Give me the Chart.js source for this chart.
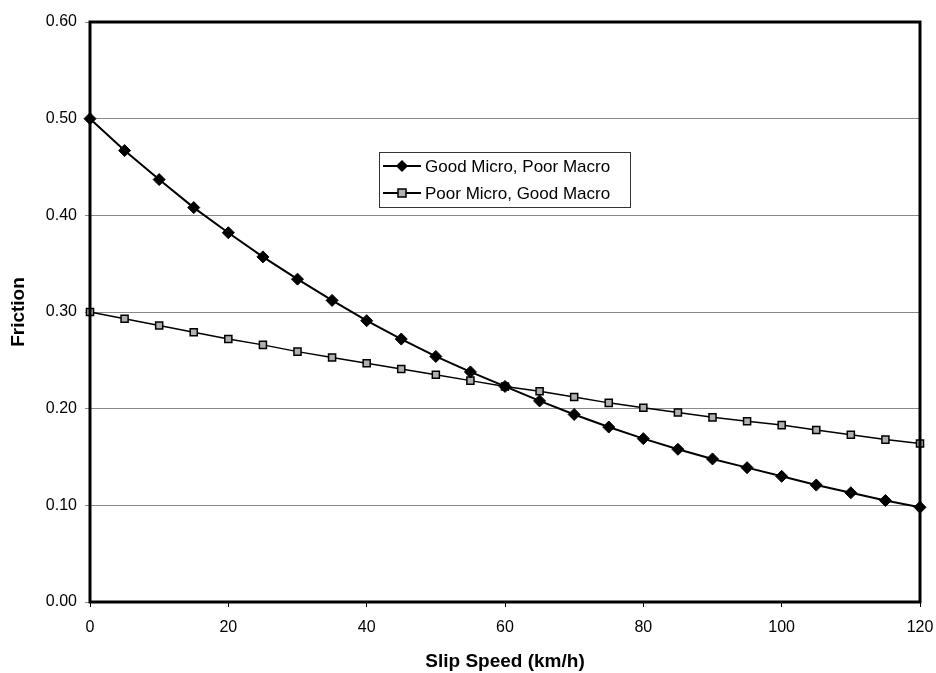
<!DOCTYPE html>
<html>
<head>
<meta charset="utf-8">
<script src="https://cdn.jsdelivr.net/npm/chart.js@4"></script>
<style>
  html, body { margin: 0; padding: 0; background: #fff; }
  #wrap { width: 936px; height: 673px; }
</style>
</head>
<body>
<div id="wrap"><canvas id="chart" width="936" height="673"></canvas></div>
<script>
const speeds = [0, 5, 10, 15, 20, 25, 30, 35, 40, 45, 50, 55, 60, 65, 70, 75, 80, 85, 90, 95, 100, 105, 110, 115, 120];
const goodMicroPoorMacro = [0.500, 0.467, 0.437, 0.408, 0.382, 0.357, 0.334, 0.312, 0.291, 0.272, 0.254, 0.238, 0.223,
    0.208, 0.194, 0.181, 0.169, 0.158, 0.148, 0.139, 0.130, 0.121, 0.113, 0.105, 0.098];
const poorMicroGoodMacro = [0.300, 0.293, 0.286, 0.279, 0.272, 0.266, 0.259, 0.253, 0.247, 0.241, 0.235, 0.229, 0.223,
    0.218, 0.212, 0.206, 0.201, 0.196, 0.191, 0.187, 0.183, 0.178, 0.173, 0.168, 0.164];
const seriesLabels = ['Good Micro, Poor Macro', 'Poor Micro, Good Macro'];

const font = "'Liberation Sans', Arial, sans-serif";

// frame around the plot + legend box inside it
const framePlugin = {
    id: 'frame',
    afterDraw(chart) {
        const c = chart.ctx, a = chart.chartArea;
        c.save();
        c.strokeStyle = '#000';
        c.lineWidth = 3;
        c.strokeRect(a.left, a.top, a.right - a.left, a.bottom - a.top);

        // legend
        const bx = 379, by = 152, bw = 251, bh = 55;
        c.fillStyle = '#fff';
        c.fillRect(bx, by, bw, bh);
        c.lineWidth = 1;
        c.strokeStyle = '#333';
        c.strokeRect(bx + 0.5, by + 0.5, bw, bh);
        c.font = '17px ' + font;
        c.textBaseline = 'middle';
        chart.data.datasets.forEach((ds, i) => {
            const y = by + 14 + i * 27;
            c.strokeStyle = '#000';
            c.lineWidth = 2;
            c.beginPath();
            c.moveTo(bx + 4, y);
            c.lineTo(bx + 42, y);
            c.stroke();
            c.fillStyle = ds.pointBackgroundColor;
            c.strokeStyle = '#000';
            c.lineWidth = 1.5;
            const mx = bx + 23;
            if (ds.pointStyle === 'rectRot') {
                c.beginPath();
                c.moveTo(mx, y - 5);
                c.lineTo(mx + 5, y);
                c.lineTo(mx, y + 5);
                c.lineTo(mx - 5, y);
                c.closePath();
                c.fill();
                c.stroke();
            } else {
                c.fillRect(mx - 4, y - 4, 8, 8);
                c.strokeRect(mx - 4, y - 4, 8, 8);
            }
            c.fillStyle = '#000';
            c.fillText(ds.label, bx + 46, y + 1);
        });
        c.restore();
    }
};

const ctx = document.getElementById('chart').getContext('2d');

const chart = new Chart(ctx, {
    type: 'line',
    data: {
        datasets: [
            {
                label: seriesLabels[0],
                data: speeds.map((s, i) => ({ x: s, y: goodMicroPoorMacro[i] })),
                borderColor: '#000',
                borderWidth: 2,
                pointStyle: 'rectRot',
                pointRadius: 6,
                pointBackgroundColor: '#000',
                pointBorderColor: '#000',
                pointBorderWidth: 1,
                clip: false
            },
            {
                label: seriesLabels[1],
                data: speeds.map((s, i) => ({ x: s, y: poorMicroGoodMacro[i] })),
                borderColor: '#000',
                borderWidth: 1.5,
                pointStyle: 'rect',
                pointRadius: 5,
                pointBackgroundColor: '#b0b0b0',
                pointBorderColor: '#000',
                pointBorderWidth: 1.5,
                clip: false
            }
        ]
    },
    options: {
        responsive: false,
        animation: false,
        layout: { padding: { top: 22, right: 16, left: 0, bottom: 0 } },
        plugins: {
            legend: { display: false },
            tooltip: { enabled: false }
        },
        scales: {
            x: {
                type: 'linear',
                min: 0,
                max: 120,
                ticks: { stepSize: 20, color: '#000', font: { family: font, size: 16 }, padding: 11 },
                grid: { drawOnChartArea: false, color: '#000', tickLength: 5 },
                border: { display: false },
                title: { display: true, text: 'Slip Speed (km/h)', color: '#000',
                         font: { family: font, size: 19, weight: 'bold' }, padding: { top: 4, bottom: 0 } },
                afterFit(scale) {
                    scale.height = 71;
                    scale.paddingLeft = 0;
                    scale.paddingRight = 0;
                }
            },
            y: {
                min: 0,
                max: 0.6,
                ticks: { stepSize: 0.1, color: '#000', font: { family: font, size: 16 }, padding: 8,
                         callback: v => v.toFixed(2) },
                grid: { color: '#8a8a8a', lineWidth: 1, tickLength: 5 },
                border: { display: false },
                title: { display: true, text: 'Friction', color: '#000',
                         font: { family: font, size: 19, weight: 'bold' }, padding: { top: 7, bottom: 0 } },
                afterFit(scale) {
                    scale.width = 90;
                    scale.paddingTop = 0;
                    scale.paddingBottom = 0;
                }
            }
        }
    },
    plugins: [framePlugin]
});
</script>
</body>
</html>
